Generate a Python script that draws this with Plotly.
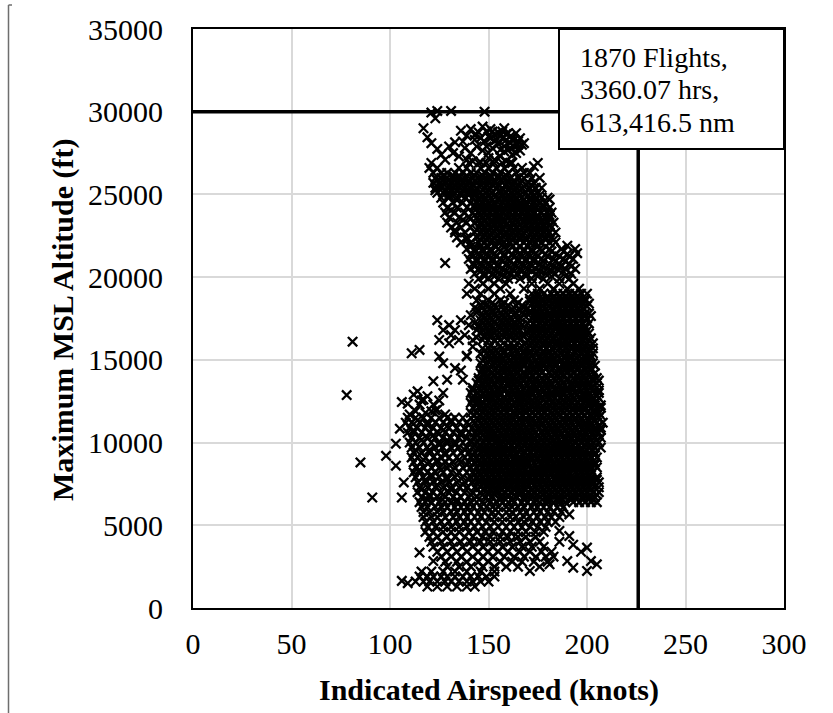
import plotly.graph_objects as go

# ---------------- data ----------------
# x: indicated airspeed (knots), y: maximum MSL altitude (ft)
x_ticks = [0, 50, 100, 150, 200, 250, 300]
y_ticks = [0, 5000, 10000, 15000, 20000, 25000, 30000, 35000]

summary_lines = ["1870 Flights,", "3360.07 hrs,", "613,416.5 nm"]
vmo_speed = 226          # vertical limit line (knots)
ceiling_alt = 30000      # horizontal limit line (ft)

# sparse points as (speed, altitude)
top_points = [(121,29950),(124,30050),(131,30050),(148,30000),(123,29600),(117,29000),(119,28450),
    (121,28100),(124,27750),(126,27400),(128,27100),(130,27900),(132,27500),(133,28150),(135,27300),
    (136,28850),(137,28200),(138,27800),(139,28550),(139,27100),(141,28950),(141,27500),(142,27000),
    (143,28300),(144,27900),(145,28750),(146,26950),(147,29100),(147,27650),(148,28200),(149,28800),
    (150,27500),(150,27200),(151,28950),(151,28400),(152,27800),(153,28600),(153,27100),(154,28300),
    (155,28750),(155,28050),(156,27300),(157,28400),(157,28800),(158,27600),(158,29000),(159,28300),
    (159,27000),(160,27700),(160,28700),(161,28100),(161,28500),(162,27400),(162,26900),(163,27900),
    (163,28300),(164,27500),(164,28700),(165,28200),(166,27650),(166,28400),(167,28000),(168,28100),
    (150,28500),(153,28250),(156,28550),(159,28650),(162,28350),(165,28000),(152,28800),(158,27900),
    (161,27800),(164,28050),(156,27700),(149,27900),(146,28400),(143,28600)]

outlier_points = [(78,12870),(81,16100),(85,8800),(91,6680),(98,9200),(103,8600),(103,9930),
    (105,10840),(106,6680),(107,7590),(111,15400),(115,15600),(125,15200),(130,16000),(139,15200),
    (142,15800),(122,13700),(129,13800),(137,13800),(133,14500),(127,14800),(128,20850),(173,26700),
    (181,24700),(190,21900),(195,21450)]

notch_left_points = [(106,12450),(109,12350),(112,12900),(114,13100),(117,12600),(119,12800),(122,12300),
    (125,12550),(127,13000),(113,11900),(118,11800),(121,11900),(124,12000),(128,11700),(110,11700),(115,12300)]

bottom_points = [(191,5660),(201,6570),(186,4660),(191,4350),(200,3650),(202,2840),(205,2640),
    (200,2240),(193,2440),(190,2840),(181,2640),(171,2240),(115,3350),(122,2840),(106,1640),
    (193,3830),(197,3400),(109,1500)]

# dense rows as (altitude, [speeds])
upper_rows = [
    (26900, [121,140,145,149,153,157,161,175]),
    (26600, [120,124,135,139,146,150,154,158,163,167]),
    (26300, [122,126,129,133,137,141,144,148,152,156,160,164,168,171]),
    (26150, [127,132,135,139,143,147,151,155,159]),
    (26000, [123,126,129,132,135,138,142,145,148,151,155,158,161,165,168,172,176]),
    (25850, [124,127,130,133,136,140,143,146,150,153,156,160,163,167]),
    (25700, [122,125,128,131,134,137,140,144,147,150,153,157,160,163,166,170,173]),
    (25550, [126,130,133,136,139,142,146,149,152,155,159,162,165,169,172]),
    (25400, [123,126,129,132,135,138,141,144,148,151,154,157,161,164,167,171,174,177]),
    (25250, [123,128,131,134,137,140,143,147,150,156,160,163,166,170]),
    (25100, [124,127,130,133,136,140,143,146,149,152,156,159,162,165,169,172,175]),
    (24950, [130,136,140,143,147,150,153,157,160,163,166,170,173,176]),
    (24800, [126,130,134,138,142,145,148,151,155,158,161,164,167,171,174,177,180]),
    (24650, [134,145,148,152,155,158,161,164,168,171,174]),
    (24500, [127,132,137,141,144,147,150,153,157,160,163,166,169,173,176,179]),
    (24350, [143,146,149,153,156,159,162,166,169,172,175,178]),
    (24200, [129,134,139,143,146,149,152,155,158,162,165,168,171,174,178,181]),
    (24050, [131,147,149,152,155,158,162,165,168,171,175]),
    (23900, [128,133,138,142,145,148,151,154,157,161,164,167,170,173,177,180,182]),
    (23750, [143,146,149,152,156,159,162,165,169,172,175,178,181]),
    (23600, [130,135,140,144,147,150,153,156,160,163,166,169,172,175,179,181]),
    (23450, [137,145,148,152,155,158,161,164,168,171,174,177]),
    (23300, [129,134,139,143,146,149,152,155,158,162,165,168,171,174,177,180,183]),
    (23150, [146,150,153,156,159,163,166,169,172,175,178,181]),
    (23000, [131,136,141,145,148,151,154,157,161,164,167,170,173,176,179,182]),
    (22850, [133,144,147,150,154,157,160,163,166,170,173,176,179]),
    (22700, [133,138,143,146,149,152,156,159,162,165,168,172,175,178,181,184]),
    (22550, [148,151,155,158,161,164,167,171,174,177,180]),
    (22400, [134,139,144,147,150,153,156,160,163,166,169,173,176,179,182]),
    (22250, [139,146,149,152,156,159,162,166,169,172,175,179,183]),
    (22100, [136,141,145,148,151,155,158,161,164,168,171,174,177,181,184]),
]

band_rows = [
    (21850, [141,146,150,154,158,162,166,170,175,179]),
    (21700, [139,143,147,151,155,159,164,168,172,176,181,187,194]),
    (21550, [143,147,151,156,160,164,168,172,177,182,188]),
    (21400, [141,145,149,153,158,162,166,170,174,179,184,190]),
    (21250, [142,146,150,154,158,163,167,171,175,180,186,191]),
    (21100, [140,144,148,152,156,160,165,169,173,177,183,188,193]),
    (20950, [144,148,152,157,161,165,169,173,178,184,189]),
    (20800, [142,146,150,155,159,163,167,171,176,181,186,191]),
    (20650, [143,147,151,155,160,164,168,172,177,183,187,192]),
    (20500, [141,145,149,153,157,162,166,170,174,180,185,189,194]),
    (20350, [146,150,154,159,163,167,172,176,182,188]),
    (20200, [143,148,152,156,161,165,169,174,179,184,192]),
    (20050, [148,153,158,163,169,175,182,189]),
    (19900, [145,150,155,160,166,172,178,186,191]),
    (19600, [140,147,153,159,172,180,186,193]),
    (19300, [143,150,156,168,176,183,190,196]),
]

right_blob_rows = [
    (19000, [139,146,153,161,172,175,178,182,185,188,191,194,197,200]),
    (18850, [175,180,183,186,189,192,195]),
    (18700, [171,174,177,180,184,187,190,193,196,199]),
    (18550, [171,174,177,181,184,187,190,193,196,199]),
    (18400, [172,175,179,182,185,188,191,194,198,201]),
    (18250, [175,178,181,185,188,191,194,197,200]),
    (18100, [170,173,176,179,183,186,189,192,195,198]),
    (17950, [171,174,177,180,183,187,190,193,196]),
    (17800, [171,174,178,181,184,187,190,193,196,199,201]),
    (17650, [173,175,178,181,184,187,190,193,196,199,202]),
    (17500, [172,175,178,182,185,188,191,194,197,200]),
    (17350, [171,174,177,180,183,186,190,193,196]),
    (17200, [170,173,176,179,183,186,189,192,195,198,201]),
    (17050, [174,178,181,184,187,190,193,196,199]),
    (16900, [171,174,177,181,184,187,190,193,196,199]),
    (16750, [171,174,177,180,183,186,189,192,195,198,200]),
    (16600, [170,173,176,179,182,186,189,192,195,198,201]),
    (16450, [168,172,175,178,181,184,187,190,193,196,199]),
    (16300, [171,174,177,180,183,187,190,193,196,199,202]),
    (16150, [170,173,176,179,182,185,189,192,195,198,201]),
    (16000, [169,172,175,178,181,185,188,191,194,197,200,203]),
]

left_group_rows = [
    (18600, [144,150,156,163]),
    (18450, [147,152,158,165]),
    (18300, [146,149,153,157,160,164,167]),
    (18150, [143,147,151,154,159,163,168]),
    (18000, [145,148,152,155,158,162,166]),
    (17850, [144,149,152,156,159,164,167]),
    (17700, [141,147,150,153,157,160,163,168]),
    (17550, [148,151,155,158,161,166]),
    (17400, [124,136,146,149,152,156,159,162,165]),
    (17250, [143,147,150,153,157,160,163,166]),
    (17100, [130,140,145,148,151,155,158,161,164,167]),
    (16950, [145,149,152,156,159,162,165]),
    (16800, [127,133,144,147,150,154,157,160,163,166]),
    (16650, [146,150,153,158,162,165]),
    (16500, [131,138,148,151,154,157,161,164,167]),
    (16350, [144,148,151,155,158,161,165]),
    (16200, [125,135,142,147,150,153,156,160,163,166]),
]

main_rows = [
    (15850, [151,156,160,163,167,171,174,178,181,185,188,192,195,199]),
    (15700, [147,150,153,157,160,163,166,170,173,176,179,182,186,189,192,195,198,201,203]),
    (15550, [148,151,154,158,164,168,171,175,178,181,185,188,191,195,198,201]),
    (15400, [146,149,152,155,158,162,165,168,171,174,178,181,184,187,190,194,197,200,203]),
    (15250, [139,150,153,156,159,163,166,169,172,176,179,182,185,189,192,196,199,202]),
    (15100, [148,151,154,157,160,163,167,170,173,176,180,183,186,189,192,195,199,202]),
    (14950, [147,151,154,157,161,164,167,170,174,180,183,187,190,193,196,200]),
    (14800, [146,149,153,156,159,162,165,168,172,175,178,181,184,188,191,194,197,200,203]),
    (14650, [152,155,158,161,165,168,171,175,178,181,184,188,191,194,197,201,204]),
    (14500, [147,150,154,157,160,163,166,170,173,176,179,183,186,189,192,196,199,202]),
    (14350, [136,147,150,153,157,160,163,166,170,173,176,182,186,189,192,195,199,202]),
    (14200, [146,148,152,155,158,161,165,168,171,174,177,181,184,187,190,193,197,200,204]),
    (14050, [149,153,156,159,162,166,169,172,176,179,182,185,188,192,195,198,201]),
    (13900, [145,149,151,155,158,162,164,167,171,174,177,180,183,186,190,193,196,199,203,205]),
    (13750, [145,148,152,155,158,161,165,168,171,174,178,184,187,190,194,197,200,203,206]),
    (13600, [144,147,150,153,157,160,163,166,169,173,176,179,182,185,188,192,195,198,201,205]),
    (13450, [147,150,153,156,160,163,166,170,173,176,179,182,186,189,192,195,198,201]),
    (13300, [142,145,148,151,155,158,161,164,168,171,174,177,180,184,187,190,193,196,199,202,205]),
    (13150, [142,146,149,152,155,158,162,165,171,174,178,181,184,187,190,193,197,200,203,206]),
    (13000, [141,144,147,150,153,156,160,163,166,169,172,175,179,182,185,188,191,194,198,201,204,206]),
    (12850, [146,150,153,156,160,163,166,169,172,176,179,182,185,188,192,195,198,201,205]),
    (12700, [142,145,149,152,155,158,161,165,168,171,174,177,181,184,187,190,193,197,200,203,206]),
    (12550, [116,142,145,149,152,156,159,162,165,168,172,175,178,181,185,188,191,194,197,200,203]),
    (12400, [141,144,147,150,154,157,160,163,166,170,173,176,179,182,186,189,192,195,198,201,204]),
    (12250, [144,146,149,153,156,159,162,166,169,172,175,181,184,188,191,194,197,201,204,207]),
    (12100, [142,145,148,151,154,158,161,164,167,170,174,177,180,183,186,189,193,196,199,202,205,207]),
    (11950, [123,148,152,155,158,161,165,168,171,174,177,180,184,187,190,193,196,199,203]),
    (11800, [141,144,147,150,153,156,159,163,166,169,172,175,178,182,185,188,191,194,197,200,204,206]),
    (11650, [143,146,149,152,155,158,161,164,167,171,174,177,180,183,186,190,193,196,199,202,205,207]),
]

lower_rows = [
    (11500, [109,113,117,121,125,129,133,137,141,144,147,150,153,156,159,162,166,169,172,175,178,181,184,188,191,194,197,200,203,206]),
    (11350, [114,131,145,148,151,154,157,160,163,166,169,172,176,179,182,185,188,191,194,197,201,204]),
    (11200, [108,111,115,119,123,127,131,135,139,143,146,149,152,155,158,161,164,167,171,174,177,180,183,186,189,192,196,199,202,205,208]),
    (11050, [119,140,147,150,153,156,159,162,165,168,171,174,177,181,184,187,190,193,196,199,202,206]),
    (10900, [110,114,118,122,126,130,134,138,142,145,148,151,154,157,160,163,166,169,172,176,179,182,185,188,191,194,198,201,204,207]),
    (10750, [112,127,145,148,151,155,158,161,164,167,170,173,179,182,185,189,192,195,198,201,204,207]),
    (10600, [109,112,116,120,124,128,132,136,140,143,146,150,153,156,159,162,165,168,171,174,177,180,184,187,190,193,196,199,203,206]),
    (10450, [122,136,144,147,150,153,157,160,163,166,169,172,175,178,181,184,187,191,194,197,200,203]),
    (10300, [111,115,119,123,127,131,135,139,143,146,149,152,155,158,161,164,167,170,173,176,179,182,185,189,192,195,198,201,204,207]),
    (10150, [116,129,141,149,152,155,158,161,164,167,170,173,177,180,183,186,189,192,196,199,202,205]),
    (10000, [110,113,117,121,125,129,133,137,141,144,147,150,153,156,160,163,166,169,172,175,178,181,184,187,190,194,197,200,203,206]),
    (9850, [125,133,146,149,152,156,159,162,165,168,171,174,177,180,184,187,190,193,196,199,202]),
    (9700, [111,115,119,123,127,131,135,139,142,145,148,151,154,157,160,163,167,170,173,176,179,182,185,188,191,194,197,201,204,207]),
    (9550, [113,120,138,145,148,151,154,157,160,163,166,170,173,176,179,182,185,188,191,194,197,200,203]),
    (9400, [112,116,120,124,128,132,136,140,143,146,149,152,155,158,161,164,168,171,174,177,180,183,186,189,192,195,198,201,204]),
    (9250, [128,142,149,152,155,158,161,164,167,170,173,177,180,183,186,189,192,195,198,201,204]),
    (9100, [111,114,118,122,126,130,134,138,141,144,147,150,153,156,159,163,166,169,172,175,178,181,184,187,190,193,196,199,202,205]),
    (8950, [117,124,135,145,148,151,154,157,160,163,166,169,172,175,178,181,185,188,191,194,197,200]),
    (8800, [112,116,120,124,128,132,136,140,143,146,149,152,155,158,161,164,167,170,173,177,180,183,186,189,192,195,198,201,204]),
    (8650, [130,139,146,149,152,155,158,161,164,167,170,174,177,180,183,186,189,192,195,198,201,204]),
    (8500, [113,117,121,125,129,133,137,141,144,147,150,153,156,159,162,165,168,172,175,178,181,184,187,190,193,196,199,202,205]),
    (8350, [115,126,148,151,154,157,160,163,166,169,172,175,178,181,184,187,190,193,196,199,202]),
    (8200, [112,115,119,123,127,131,135,139,142,145,148,151,154,157,161,164,167,170,173,176,179,182,185,188,191,194,197,200,203]),
    (8050, [121,134,143,146,149,152,155,158,161,164,167,170,173,176,179,182,185,188,191,195,198,201]),
    (7900, [113,117,121,125,129,133,137,141,144,147,150,153,156,159,162,165,168,171,174,177,180,184,187,190,193,196,199,202,205]),
    (7750, [118,129,140,145,148,151,154,157,160,163,166,169,172,175,178,181,184,187,190,193,196,199,202,205]),
    (7600, [114,118,122,126,130,134,138,142,145,148,151,154,157,160,163,166,169,172,175,178,182,185,188,191,194,197,200,203,206]),
    (7450, [124,137,149,152,155,158,161,164,167,170,173,176,179,182,185,188,191,194,197,200,203]),
    (7300, [115,119,123,127,131,135,139,143,146,149,152,155,158,161,164,167,170,174,177,180,183,186,189,192,195,198,201,204,206]),
    (7150, [116,131,144,148,151,154,157,160,163,166,169,172,175,178,181,184,187,190,193,196,199,202]),
    (7000, [114,118,122,126,130,134,138,142,146,150,154,158,162,166,170,173,176,179,182,185,188,191,194,197,200,203,206]),
    (6850, [120,127,141,147,150,153,157,160,163,166,169,172,175,178,181,184,187,190,193,196,199,205]),
    (6700, [116,120,124,128,132,136,140,144,148,152,156,160,164,168,172,176,180,183,186,189,192,195,198,201,204]),
    (6550, [119,134,150,156,162,168,174,180,186,192,198,203]),
    (6400, [115,118,121,125,128,131,134,138,141,144,147,151,154,157,160,163,167,170,173,176,180,183,186,189,193,196,199,202,205]),
    (6100, [116,119,123,126,129,133,136,139,142,146,149,152,155,159,162,165,168,172,175,178,181,185,188]),
    (5800, [117,120,124,127,131,134,138,141,145,148,152,155,159,162,166,169,173,176,180,183,187]),
    (5500, [117,121,124,128,132,135,139,143,146,150,153,157,161,164,168,171,175,179,182,186]),
    (5200, [118,122,126,130,134,138,141,145,149,153,157,161,165,168,172,176,180,184]),
    (4900, [119,123,127,131,135,139,143,147,151,155,159,163,167,171,175,179]),
    (4600, [118,122,127,131,135,140,144,148,152,157,161,165,169,174,178]),
    (4300, [120,124,129,133,138,142,147,151,156,160,165,169,174]),
    (4000, [121,126,131,136,141,146,151,156,161,166,171,176,186]),
    (3700, [122,127,132,137,142,147,152,157,162,167,172,178]),
    (3400, [124,129,134,139,145,150,155,160,166,171,177,182]),
    (3100, [126,131,136,142,147,152,158,163,168,174,179,183]),
    (2800, [128,134,139,145,150,156,162,167,173,180]),
    (2500, [129,135,141,147,153,159,165,176]),
]

bottom_rows = [
    (2200, [116,121,127,133,139,146,153]),
    (1900, [115,119,122,126,129,133,137,141,145,149,153]),
    (1600, [113,117,120,124,128,131,135,139,142,146,150]),
    (1300, [119,124,129,134,139,143]),
]

# ---------------- assemble ----------------
speeds, alts = [], []
for pts in (top_points, outlier_points, notch_left_points, bottom_points):
    for s, a in pts:
        speeds.append(s)
        alts.append(a)
for rows in (upper_rows, band_rows, right_blob_rows, left_group_rows, main_rows, lower_rows, bottom_rows):
    for a, row in rows:
        for s in row:
            speeds.append(s)
            alts.append(a)

FONT = "Liberation Serif"

fig = go.Figure()
fig.add_trace(go.Scatter(
    x=speeds, y=alts, mode="markers",
    marker=dict(symbol="x-thin", size=9.4, color="black",
                line=dict(color="black", width=2.3)),
    hoverinfo="skip", showlegend=False, cliponaxis=True,
))

# plot area in pixels: x 193..784, y 29..608
L, R, T, B = 193, 784, 29, 608
W, H = R - L, B - T


def px(xp):
    return (xp - L) / W


def py(yp):
    return (B - yp) / H


fig.update_layout(
    width=833, height=713,
    margin=dict(l=L, r=833 - R, t=T, b=713 - B, pad=0),
    plot_bgcolor="white", paper_bgcolor="white",
    font=dict(family=FONT, color="black", size=30),
    showlegend=False,
    xaxis=dict(range=[0, 300], tickvals=x_ticks, ticktext=[str(v) for v in x_ticks],
               showgrid=True, gridcolor="#d9d9d9", gridwidth=1.5, zeroline=False,
               showline=True, linecolor="black", linewidth=2, mirror=True,
               ticks="", tickfont=dict(family=FONT, size=30, color="black"),
               ticklabelstandoff=8),
    yaxis=dict(range=[0, 35000], tickvals=y_ticks, ticktext=[str(v) for v in y_ticks],
               showgrid=True, gridcolor="#d9d9d9", gridwidth=1.5, zeroline=False,
               showline=True, linecolor="black", linewidth=2, mirror=True,
               ticks="", tickfont=dict(family=FONT, size=30, color="black"),
               ticklabelstandoff=22),
)

# limit lines
fig.add_shape(type="line", xref="x", yref="y", x0=0, x1=185.8, y0=ceiling_alt, y1=ceiling_alt,
              line=dict(color="black", width=3.5))
fig.add_shape(type="line", xref="x", yref="y", x0=vmo_speed, x1=vmo_speed, y0=0, y1=27750,
              line=dict(color="black", width=3.5))

# summary box
fig.add_shape(type="rect", xref="paper", yref="paper", x0=px(559), x1=1.0, y0=py(149), y1=1.0,
              line=dict(color="black", width=2), fillcolor="white", layer="above")
for line, yc in zip(summary_lines, [57, 89, 122]):
    fig.add_annotation(text=line, xref="paper", yref="paper", x=px(578), y=py(yc),
                       xanchor="left", yanchor="middle", showarrow=False,
                       font=dict(family=FONT, size=28, color="black"))

# axis titles
fig.add_annotation(text="Indicated Airspeed (knots)", xref="paper", yref="paper",
                   x=px(489), y=py(690), xanchor="center", yanchor="middle", showarrow=False,
                   font=dict(family=FONT, size=30, color="black", weight="bold"))
fig.add_annotation(text="Maximum MSL Altitude (ft)", xref="paper", yref="paper",
                   x=px(63), y=py(320), xanchor="center", yanchor="middle", showarrow=False,
                   textangle=-90,
                   font=dict(family=FONT, size=30, color="black", weight="bold"))

# page-border fragment at the left edge
fig.add_shape(type="line", xref="paper", yref="paper", x0=px(8.5), x1=px(8.5), y0=py(5), y1=py(713),
              line=dict(color="#6e6e6e", width=1.5))
fig.add_shape(type="line", xref="paper", yref="paper", x0=px(8.5), x1=px(12), y0=py(5), y1=py(5),
              line=dict(color="#6e6e6e", width=1.5))

fig.write_html("out.html")
